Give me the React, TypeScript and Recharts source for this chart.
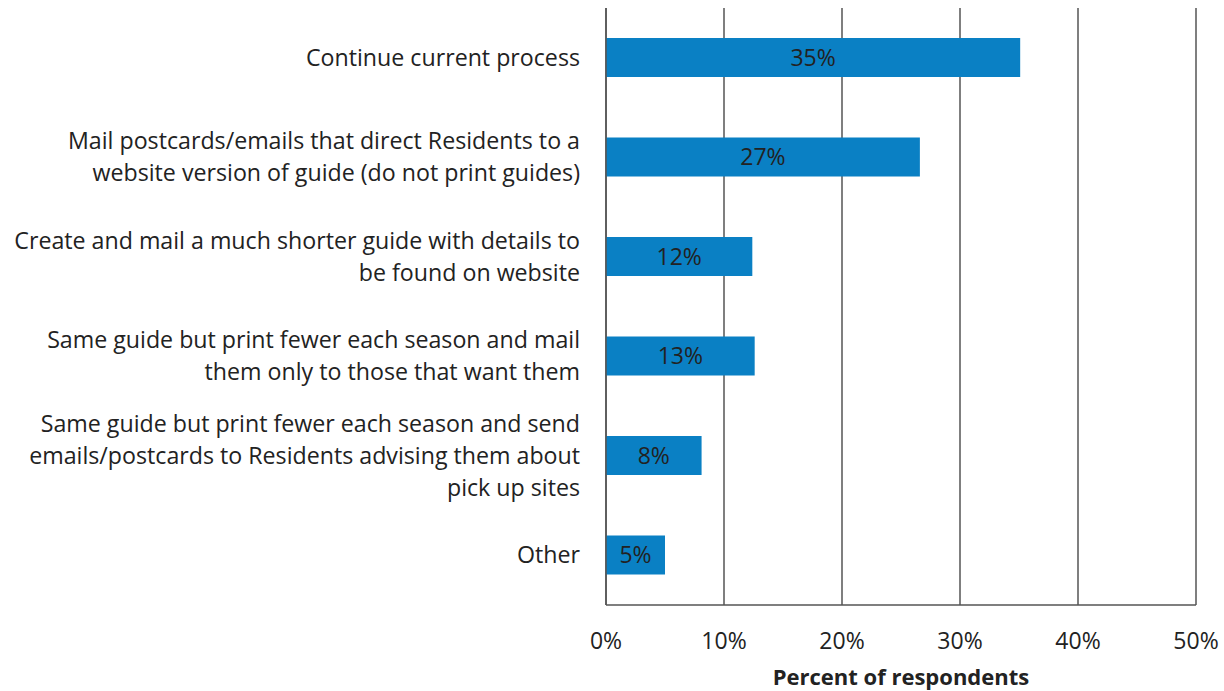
import React from 'react';
import { BarChart, Bar, XAxis, YAxis, CartesianGrid, LabelList } from 'recharts';

const categories = [
  'Continue current process',
  'Mail postcards/emails that direct Residents to a\nwebsite version of guide (do not print guides)',
  'Create and mail a much shorter guide with details to\nbe found on website',
  'Same guide but print fewer each season and mail\nthem only to those that want them',
  'Same guide but print fewer each season and send\nemails/postcards to Residents advising them about\npick up sites',
  'Other',
];
const values = [35.1, 26.6, 12.4, 12.6, 8.1, 5.0];
const valueLabels = ['35%', '27%', '12%', '13%', '8%', '5%'];
const xTicks = [0, 10, 20, 30, 40, 50];

const data = categories.map((c, i) => ({ name: c, value: values[i], label: valueLabels[i] }));

const FONT = '"Open Sans", Lato, sans-serif';

const YTick = (props: any) => {
  const { x, y, payload } = props;
  const lines = String(payload.value).split('\n');
  const lh = 32;
  const start = y - ((lines.length - 1) * lh) / 2;
  return (
    <g>
      {lines.map((l: string, i: number) => (
        <text key={i} x={x - 18} y={start + i * lh} dy="0.35em" textAnchor="end" fontSize={23.2} fill="#222" fontFamily={FONT}>
          {l}
        </text>
      ))}
    </g>
  );
};

const XTick = (props: any) => {
  const { x, y, payload } = props;
  return (
    <text x={x} y={y + 28} dy="0.35em" textAnchor="middle" fontSize={23} fill="#222" fontFamily={FONT}>
      {payload.value}%
    </text>
  );
};

export default function App() {
  return (
    <div style={{ position: 'absolute', left: 0, top: 0, background: '#fff' }}>
      <BarChart
        width={1224}
        height={691}
        data={data}
        layout="vertical"
        margin={{ top: 8, right: 28, left: 0, bottom: 0 }}
        barSize={39}
      >
        <CartesianGrid horizontal={false} vertical stroke="#555" strokeWidth={1.5} />
        <XAxis
          type="number"
          domain={[0, 50]}
          ticks={xTicks}
          tick={<XTick />}
          tickLine={false}
          axisLine={{ stroke: '#555', strokeWidth: 1.5 }}
          height={86}
          label={{ value: 'Percent of respondents', position: 'insideBottom', offset: 6, fontSize: 22, fontWeight: 'bold', fill: '#222', fontFamily: FONT }}
        />
        <YAxis
          type="category"
          dataKey="name"
          width={606}
          tick={<YTick />}
          tickLine={false}
          axisLine={{ stroke: '#555', strokeWidth: 1.5 }}
          interval={0}
        />
        <Bar dataKey="value" fill="#0a80c4" isAnimationActive={false}>
          <LabelList dataKey="label" position="center" fill="#222" fontSize={23} fontFamily={FONT} />
        </Bar>
      </BarChart>
    </div>
  );
}
